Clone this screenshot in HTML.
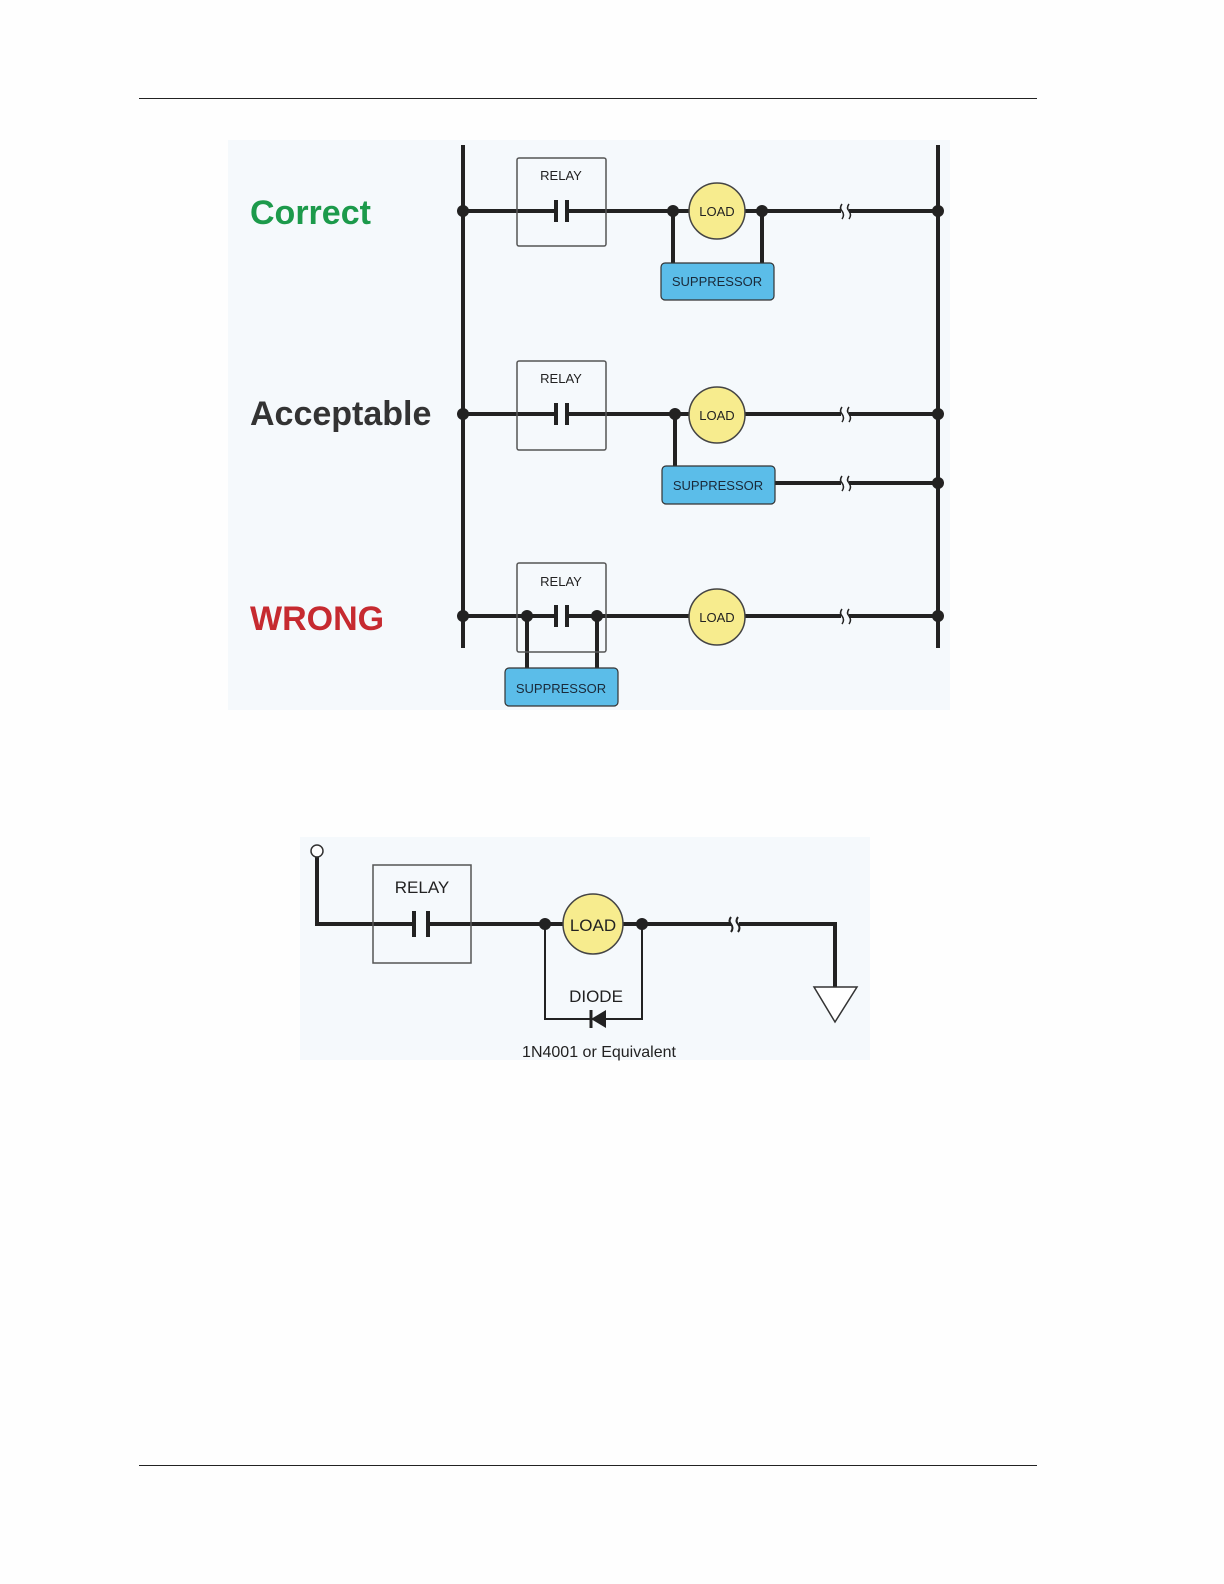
<!DOCTYPE html>
<html><head><meta charset="utf-8"><style>
html,body{margin:0;padding:0;background:#fff;}
svg{display:block;font-family:"Liberation Sans",Arial,sans-serif;}
</style></head><body>
<svg width="1224" height="1584" viewBox="0 0 1224 1584" xmlns="http://www.w3.org/2000/svg">
<rect width="1224" height="1584" fill="#fefefe"/>
<line x1="139" y1="98.5" x2="1037" y2="98.5" stroke="#222" stroke-width="1"/>
<line x1="139" y1="1465.5" x2="1037" y2="1465.5" stroke="#222" stroke-width="1"/>

<rect x="228" y="140" width="722" height="570" fill="#f5f9fc"/>
<text x="250" y="224" font-size="34" font-weight="bold" fill="#1c9a4b">Correct</text>
<text x="250" y="425" font-size="34" font-weight="bold" fill="#333">Acceptable</text>
<text x="250" y="630" font-size="34" font-weight="bold" fill="#c62a30">WRONG</text>

<g stroke="#222" stroke-width="4" fill="none">
<line x1="463" y1="145" x2="463" y2="648"/>
<line x1="938" y1="145" x2="938" y2="648"/>
<line x1="463" y1="211" x2="555" y2="211"/><line x1="567" y1="211" x2="690" y2="211"/>
<line x1="744" y1="211" x2="841" y2="211"/><line x1="849" y1="211" x2="938" y2="211"/>
<line x1="673" y1="211" x2="673" y2="264"/><line x1="762" y1="211" x2="762" y2="264"/>
<line x1="463" y1="414" x2="555" y2="414"/><line x1="567" y1="414" x2="690" y2="414"/>
<line x1="744" y1="414" x2="841" y2="414"/><line x1="849" y1="414" x2="938" y2="414"/>
<line x1="675" y1="414" x2="675" y2="467"/>
<line x1="775" y1="483" x2="841" y2="483"/><line x1="849" y1="483" x2="938" y2="483"/>
<line x1="463" y1="616" x2="555" y2="616"/><line x1="567" y1="616" x2="690" y2="616"/>
<line x1="744" y1="616" x2="841" y2="616"/><line x1="849" y1="616" x2="938" y2="616"/>
<line x1="527" y1="616" x2="527" y2="669"/><line x1="597" y1="616" x2="597" y2="669"/>
</g>
<g stroke="#222" stroke-width="1.5" fill="none">
<path d="M842 204 q-3 4 0 7 q3 4 0 8"/><path d="M849 204 q-3 4 0 7 q3 4 0 8"/>
<path d="M842 407 q-3 4 0 7 q3 4 0 8"/><path d="M849 407 q-3 4 0 7 q3 4 0 8"/>
<path d="M842 476 q-3 4 0 7 q3 4 0 8"/><path d="M849 476 q-3 4 0 7 q3 4 0 8"/>
<path d="M842 609 q-3 4 0 7 q3 4 0 8"/><path d="M849 609 q-3 4 0 7 q3 4 0 8"/>
<rect x="517" y="158" width="89" height="88" rx="2" stroke="#555"/>
<rect x="517" y="361" width="89" height="89" rx="2" stroke="#555"/>
<rect x="517" y="563" width="89" height="89" rx="2" stroke="#555"/>
</g>
<g stroke="#222" stroke-width="4">
<line x1="556" y1="200" x2="556" y2="222"/><line x1="567" y1="200" x2="567" y2="222"/>
<line x1="556" y1="403" x2="556" y2="425"/><line x1="567" y1="403" x2="567" y2="425"/>
<line x1="556" y1="605" x2="556" y2="627"/><line x1="567" y1="605" x2="567" y2="627"/>
</g>
<g font-size="13" fill="#222" text-anchor="middle">
<text x="561" y="180">RELAY</text><text x="561" y="383">RELAY</text><text x="561" y="586">RELAY</text>
</g>
<g fill="#f7ec8e" stroke="#444" stroke-width="1.5">
<circle cx="717" cy="211" r="28"/><circle cx="717" cy="415" r="28"/><circle cx="717" cy="617" r="28"/>
</g>
<g font-size="13" fill="#222" text-anchor="middle">
<text x="717" y="216">LOAD</text><text x="717" y="420">LOAD</text><text x="717" y="622">LOAD</text>
</g>
<g fill="#5bbde9" stroke="#333" stroke-width="1.2">
<rect x="661" y="263" width="113" height="37" rx="4"/>
<rect x="662" y="466" width="113" height="38" rx="4"/>
<rect x="505" y="668" width="113" height="38" rx="4"/>
</g>
<g font-size="13" fill="#1a2a3a" text-anchor="middle">
<text x="717" y="286">SUPPRESSOR</text><text x="718" y="490">SUPPRESSOR</text><text x="561" y="693">SUPPRESSOR</text>
</g>
<g fill="#222">
<circle cx="463" cy="211" r="6"/><circle cx="673" cy="211" r="6"/><circle cx="762" cy="211" r="6"/><circle cx="938" cy="211" r="6"/>
<circle cx="463" cy="414" r="6"/><circle cx="675" cy="414" r="6"/><circle cx="938" cy="414" r="6"/><circle cx="938" cy="483" r="6"/>
<circle cx="463" cy="616" r="6"/><circle cx="527" cy="616" r="6"/><circle cx="597" cy="616" r="6"/><circle cx="938" cy="616" r="6"/>
</g>

<rect x="300" y="837" width="570" height="223" fill="#f5f9fc"/>
<g stroke="#222" stroke-width="4" fill="none">
<polyline points="317,857 317,924 413,924"/>
<line x1="428" y1="924" x2="565" y2="924"/>
<line x1="622" y1="924" x2="731" y2="924"/>
<polyline points="739,924 835,924 835,987"/>
<line x1="414" y1="911" x2="414" y2="937"/><line x1="428" y1="911" x2="428" y2="937"/>
</g>
<g stroke="#222" stroke-width="2" fill="none">
<polyline points="545,924 545,1019 642,1019 642,924"/>
<path d="M731 917 q-3 4 0 7 q3 4 0 8"/><path d="M738 917 q-3 4 0 7 q3 4 0 8"/>
<line x1="591" y1="1010" x2="591" y2="1028" stroke-width="3"/>
</g>
<polygon points="591,1019 606,1010 606,1028" fill="#222"/>
<circle cx="317" cy="851" r="6" fill="#fff" stroke="#333" stroke-width="1.5"/>
<rect x="373" y="865" width="98" height="98" fill="none" stroke="#555" stroke-width="1.5"/>
<circle cx="593" cy="924" r="30" fill="#f7ec8e" stroke="#444" stroke-width="1.5"/>
<circle cx="545" cy="924" r="6" fill="#222"/><circle cx="642" cy="924" r="6" fill="#222"/>
<polygon points="814,987 857,987 835,1022" fill="#fff" stroke="#333" stroke-width="1.5"/>
<g fill="#222" text-anchor="middle">
<text x="422" y="893" font-size="17">RELAY</text>
<text x="593" y="931" font-size="17">LOAD</text>
<text x="596" y="1002" font-size="17">DIODE</text>
<text x="599" y="1057" font-size="16">1N4001 or Equivalent</text>
</g>
</svg>
</body></html>
